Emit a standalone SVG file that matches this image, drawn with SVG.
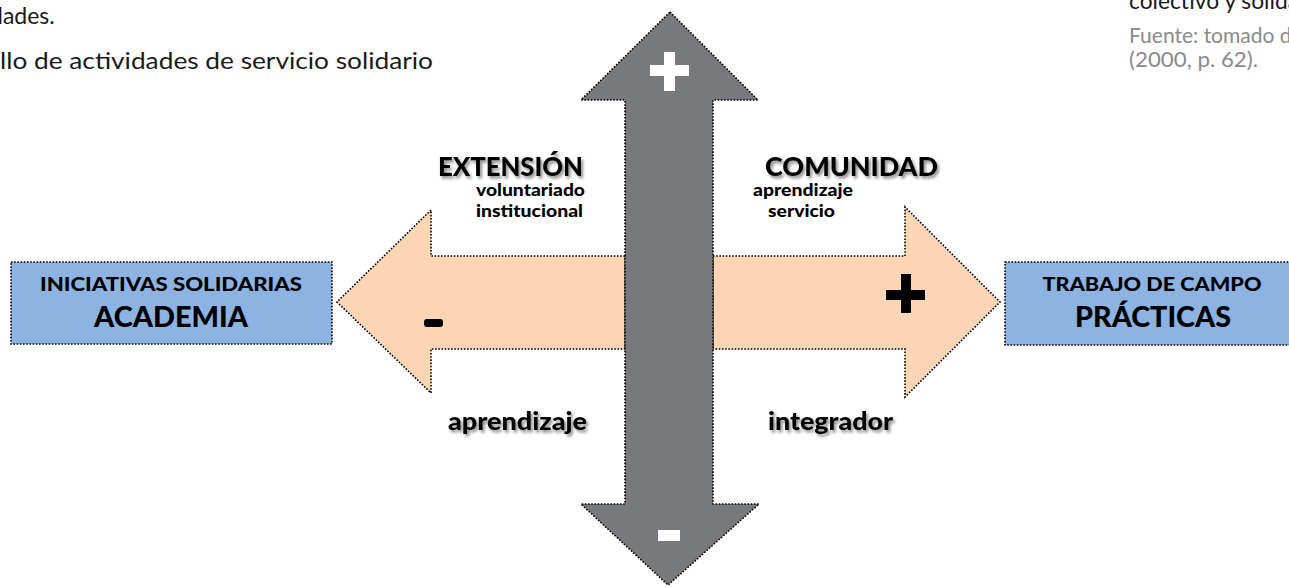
<svg xmlns="http://www.w3.org/2000/svg" width="1289" height="587" viewBox="0 0 1289 587">
<style>
.dot{stroke:#000;stroke-width:1.6;stroke-dasharray:1.6 1.6;}
.gray{fill:#78797c;}
.peach{fill:#fbd5b4;}
.blue{fill:#8db3e2;}
.t{font-family:Lato,"Liberation Sans",sans-serif;font-weight:900;fill:#000;}
.body{font-family:Lato,"Open Sans","Liberation Sans",sans-serif;font-size:23px;fill:#1a1a1a;}
.src{font-family:Lato,"Open Sans","Liberation Sans",sans-serif;font-size:21px;fill:#8a8a8a;}
</style>
<defs>
<filter id="sh" x="-10%" y="-30%" width="130%" height="170%">
<feDropShadow dx="2" dy="2.5" stdDeviation="1.6" flood-color="#000" flood-opacity="0.45"/>
</filter>
</defs>
<g id="page-text">
<text class="body" x="-10" y="24">dades.</text>
<text class="body" x="0" y="69" textLength="433" lengthAdjust="spacingAndGlyphs">llo de actividades de servicio solidario</text>
<text class="body" x="1129" y="9" font-size="21" textLength="170" lengthAdjust="spacingAndGlyphs">colectivo y solida</text>
<text class="src" x="1129" y="43">Fuente: tomado d</text>
<text class="src" x="1129" y="67" textLength="129" lengthAdjust="spacingAndGlyphs">(2000, p. 62).</text>
</g>
<g id="connectors">
<polygon id="arrow-left" class="peach dot" points="625,256 431,256 431,210 337,302 431,393 431,349 625,349"/>
<polygon id="arrow-right" class="peach dot" points="713,256 905,256 905,207 1000,302 905,397 905,349 713,349"/>
<polygon id="arrow-vertical" class="gray dot" points="670,12 758,100 713,100 713,504 759,504 668,585 581,504 625,504 625,100 581,100"/>
</g>
<g id="signs">
<rect x="650" y="65" width="39" height="11" fill="#fff"/>
<rect x="664" y="52" width="11" height="39" fill="#fff"/>
<rect x="658" y="530" width="22" height="11" fill="#fff"/>
<rect x="424" y="319" width="19" height="8" rx="3" fill="#000"/>
<rect x="886" y="290" width="39" height="10" fill="#000"/>
<rect x="901" y="274" width="10" height="39" fill="#000"/>
</g>
<g id="node-academia">
<rect class="blue dot" x="11" y="262" width="321" height="82"/>
<text class="t" x="171" y="291" font-size="19" text-anchor="middle" textLength="262" lengthAdjust="spacingAndGlyphs">INICIATIVAS SOLIDARIAS</text>
<text class="t" x="171" y="327" font-size="28" text-anchor="middle" textLength="154" lengthAdjust="spacingAndGlyphs">ACADEMIA</text>
</g>
<g id="node-practicas">
<rect class="blue dot" x="1005" y="262" width="290" height="83"/>
<text class="t" x="1152" y="291" font-size="19" text-anchor="middle" textLength="219" lengthAdjust="spacingAndGlyphs">TRABAJO DE CAMPO</text>
<text class="t" x="1153" y="327" font-size="28" text-anchor="middle" textLength="156" lengthAdjust="spacingAndGlyphs">PRÁCTICAS</text>
</g>
<g id="label-extension">
<text class="t" x="438" y="176" font-size="26" filter="url(#sh)" textLength="145" lengthAdjust="spacingAndGlyphs">EXTENSIÓN</text>
<text class="t" x="476" y="196" font-size="16" textLength="109" lengthAdjust="spacingAndGlyphs">voluntariado</text>
<text class="t" x="476" y="217" font-size="16" textLength="107" lengthAdjust="spacingAndGlyphs">institucional</text>
</g>
<g id="label-comunidad">
<text class="t" x="765" y="176" font-size="26" filter="url(#sh)" textLength="173" lengthAdjust="spacingAndGlyphs">COMUNIDAD</text>
<text class="t" x="753" y="196" font-size="16" textLength="100" lengthAdjust="spacingAndGlyphs">aprendizaje</text>
<text class="t" x="768" y="217" font-size="16" textLength="67" lengthAdjust="spacingAndGlyphs">servicio</text>
</g>
<g id="label-aprendizaje">
<text class="t" x="448" y="430" font-size="24" filter="url(#sh)" textLength="139" lengthAdjust="spacingAndGlyphs">aprendizaje</text>
</g>
<g id="label-integrador">
<text class="t" x="768" y="430" font-size="24" filter="url(#sh)" textLength="125" lengthAdjust="spacingAndGlyphs">integrador</text>
</g>
</svg>
